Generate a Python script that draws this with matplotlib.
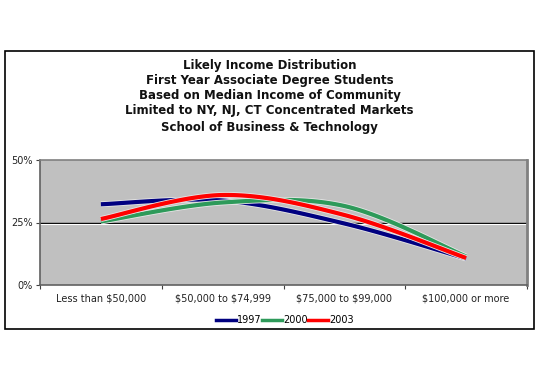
import numpy as np
import matplotlib
matplotlib.use("Agg")
import matplotlib.pyplot as plt
from matplotlib.patches import Rectangle
import matplotlib.patheffects as pe

categories = ["Less than $50,000", "$50,000 to $74,999", "$75,000 to $99,000", "$100,000 or more"]
years = ["1997", "2000", "2003"]
v1997 = [32.3, 33.8, 24.6, 10.6]
v2000 = [25.4, 33.0, 31.6, 11.4]
v2003 = [26.4, 36.0, 28.0, 10.8]
series = [v1997, v2000, v2003]
colors = ["#000080", "#2e9a5a", "#ff0000"]
title_lines = ["Likely Income Distribution",
               "First Year Associate Degree Students",
               "Based on Median Income of Community",
               "Limited to NY, NJ, CT Concentrated Markets",
               "School of Business & Technology"]
yticks = [0, 25, 50]
ytick_labels = ["0%", "25%", "50%"]


def smooth(x, y, n=40):
    # Catmull-Rom style smoothing (like Excel's smoothed line)
    x = np.asarray(x, float)
    y = np.asarray(y, float)
    px = np.concatenate([[x[0]], x, [x[-1]]])
    py = np.concatenate([[y[0]], y, [y[-1]]])
    xs, ys = [], []
    t = np.linspace(0, 1, n)
    for i in range(1, len(px) - 2):
        p0, p1, p2, p3 = [np.array([px[j], py[j]]) for j in (i - 1, i, i + 1, i + 2)]
        c1 = p1 + (p2 - p0) / 6
        c2 = p2 - (p3 - p1) / 6
        b = ((1 - t) ** 3)[:, None] * p1 + (3 * (1 - t) ** 2 * t)[:, None] * c1 \
            + (3 * (1 - t) * t ** 2)[:, None] * c2 + (t ** 3)[:, None] * p2
        xs.extend(b[:, 0])
        ys.extend(b[:, 1])
    return np.array(xs), np.array(ys)


fig = plt.figure(figsize=(5.4, 3.81), dpi=100)
fig.patch.set_facecolor("white")
W, H = 540, 381

# outer chart frame
fig.patches.append(Rectangle((5 / W, 1 - 329 / H), 529 / W, 278 / H, transform=fig.transFigure,
                             fill=False, edgecolor="black", linewidth=1.2))

ax = fig.add_axes([40 / W, 1 - 285 / H, 487 / W, 125 / H])
ax.set_facecolor("#c0c0c0")
ax.set_xlim(-0.5, len(categories) - 0.5)
ax.set_ylim(0, 50)

ax.axhline(25, color="black", linewidth=1.0, zorder=1)
ax.axhline(24.5, color="white", linewidth=0.8, zorder=1)

x = np.arange(len(categories))
for vals, c, yr in zip(series, colors, years):
    sx, sy = smooth(x, vals)
    ax.plot(sx, sy, color=c, linewidth=3, solid_capstyle="butt", zorder=3,
            path_effects=[pe.Stroke(linewidth=4.2, foreground="#e6e6e6"), pe.Normal()])
    ax.plot([], [], color=c, linewidth=2.5, label=yr)

for side in ["top", "right"]:
    ax.spines[side].set_color("#808080")
    ax.spines[side].set_linewidth(1.2)
ax.spines["right"].set_linewidth(2)
ax.spines["left"].set_color("#606060")
ax.spines["bottom"].set_color("#606060")
ax.spines["left"].set_linewidth(1.2)
ax.spines["bottom"].set_linewidth(1.2)

ax.set_yticks(yticks)
ax.set_yticklabels(ytick_labels, fontsize=7, color="#222222")
ax.set_xticks(np.arange(len(categories) + 1) - 0.5, minor=False)
ax.set_xticklabels([])
ax.set_xticks(x, minor=True)
ax.set_xticklabels([c.replace("$", r"\$") for c in categories], minor=True, fontsize=7,
                   color="#222222")
ax.tick_params(axis="x", which="minor", length=0, pad=6)
ax.tick_params(axis="x", which="major", length=3, direction="out", color="#404040")
ax.tick_params(axis="y", length=3, direction="out", pad=2, color="#404040")

for i, line in enumerate(title_lines):
    fig.text(0.5 * (5 + 534) / W, 1 - (66 + i * 14.8 + (2 if i == 4 else 0)) / H, line,
             ha="center", va="center", fontsize=8.5, fontweight="bold", color="#111111")

leg = fig.legend(loc="center", bbox_to_anchor=(285 / W, 1 - 320 / H), ncol=3, frameon=False,
                 fontsize=7, handlelength=2.0, handletextpad=0.1, columnspacing=0.1,
                 borderpad=0)

fig.savefig("out.png", dpi=100, facecolor="white")
